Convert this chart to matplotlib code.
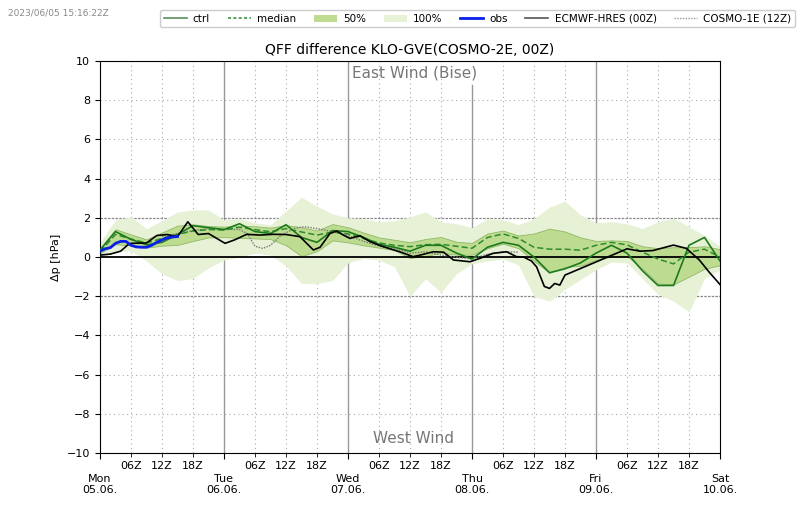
import matplotlib
matplotlib.use("Agg")
import matplotlib.pyplot as plt
from matplotlib.lines import Line2D
from matplotlib.patches import Patch
import numpy as np

# forecast hours from Mon 05.06. 00Z (3-hourly)
hours = list(range(0, 121, 3))

ctrl = [0.36, 1.3, 0.9, 0.62, 0.75, 1.15, 1.6, 1.5, 1.4, 1.7,
        1.3, 1.2, 1.65, 1.0, 0.75, 1.35, 1.3, 1.0, 0.65, 0.5,
        0.3, 0.6, 0.6, 0.2, -0.1, 0.5, 0.75, 0.6, 0.0, -0.8,
        -0.6, -0.3, 0.2, 0.6, 0.2, -0.7, -1.45, -1.45, 0.6, 1.0,
        -0.2]
median = [0.27, 1.15, 0.92, 0.72, 0.95, 1.15, 1.33, 1.4, 1.38, 1.52,
          1.4, 1.29, 1.45, 1.28, 1.12, 1.28, 1.18, 0.95, 0.72, 0.6,
          0.53, 0.63, 0.65, 0.55, 0.45, 1.0, 1.18, 0.95, 0.5, 0.4,
          0.4, 0.35, 0.6, 0.75, 0.62, 0.25, -0.1, -0.35, 0.25, 0.4,
          0.0]
p50_hi = [0.44, 1.42, 1.15, 0.9, 1.25, 1.6, 1.67, 1.58, 1.55, 1.6,
          1.57, 1.5, 1.63, 1.52, 1.35, 1.68, 1.52, 1.25, 1.0, 0.88,
          0.75, 0.92, 1.02, 0.78, 0.72, 1.2, 1.35, 1.1, 1.2, 1.45,
          1.3, 1.0, 0.82, 0.85, 0.82, 0.55, 0.45, 0.5, 0.5, 0.55,
          0.4]
p50_lo = [0.2, 0.65, 0.6, 0.48, 0.58, 0.62, 0.82, 1.0, 1.02, 0.98,
          0.95, 0.92, 0.6, 0.05, 0.3, 0.85, 0.75, 0.6, 0.48, 0.35,
          -0.05, 0.05, 0.22, 0.12, 0.12, 0.45, 0.68, 0.45, -0.2, -0.8,
          -0.5, -0.45, -0.15, 0.02, 0.05, -0.6, -1.35, -1.4, -1.0, -0.6,
          -0.42]
p100_hi = [0.75, 1.9, 2.05, 1.45, 1.85, 2.3, 2.4, 2.4, 1.9, 1.95,
           1.75, 1.65, 2.35, 3.05, 2.6, 2.2, 2.0, 1.95, 1.8, 1.85,
           2.05, 2.3, 1.8, 1.7, 1.5, 1.95, 1.9, 1.65, 1.95, 2.55,
           2.85, 2.15, 1.75, 1.8, 1.7, 1.45, 1.8, 1.97, 1.55, 1.1,
           0.55]
p100_lo = [-0.05, 0.3, 0.3, -0.2, -0.85, -1.2, -1.1, -0.55, -0.15, 0.0,
           0.2, 0.1, -0.45, -1.35, -1.35, -1.2, -0.3, -0.07, -0.15, -0.5,
           -2.0, -1.1, -1.8, -0.85, -0.35, -0.2, -0.1, -0.4, -2.0, -2.25,
           -1.65, -1.15, -0.65, -0.25, -0.3, -1.1, -1.9, -2.25, -2.8, -1.1,
           -0.66]

obs_hours = list(range(0, 16))
obs = [0.3, 0.42, 0.48, 0.7, 0.8, 0.8, 0.6, 0.52, 0.5, 0.5,
       0.6, 0.75, 0.88, 0.98, 1.02, 1.05]

ecmwf_hours = [0, 2, 4, 5.5, 6, 9, 11, 13, 15, 17, 19, 21, 22.6, 24.2, 26,
               28.4, 31, 33.5, 36, 38.7, 41.3, 42.6, 44.5, 45.8, 47.1, 48.4,
               50.3, 52.3, 54.8, 58, 60.6, 62, 64.5, 66.5, 68.4, 71.6, 73.5,
               76.1, 78.7, 80.6, 82, 83.5, 84.5, 86, 87, 88, 89, 90, 102,
               104.5, 107, 111, 113.5, 116, 118, 120]
ecmwf = [0.1, 0.15, 0.3, 0.65, 0.7, 0.72, 1.1, 1.15, 1.04, 1.8, 1.15, 1.2,
         0.95, 0.7, 0.87, 1.16, 1.12, 1.16, 1.15, 1.04, 0.36, 0.5, 1.2, 1.33,
         1.12, 0.95, 1.09, 0.78, 0.53, 0.27, 0.02, 0.1, 0.27, 0.25, -0.15,
         -0.24, -0.07, 0.19, 0.27, 0.02, 0.0, -0.2, -0.5, -1.5, -1.6, -1.35,
         -1.43, -0.92, 0.42, 0.3, 0.33, 0.61, 0.44, -0.15, -0.8, -1.4]

c1e_hours = [12, 15, 18, 21, 24, 27, 28.5, 30, 31.5, 33, 35, 37.5, 39.5, 42,
             45, 48, 51, 54, 57, 60, 63, 66, 69, 72, 75, 78, 81]
c1e = [1.05, 1.2, 1.35, 1.45, 1.42, 1.4, 1.2, 0.55, 0.44, 0.6, 1.1, 1.45,
       1.55, 1.45, 1.3, 1.1, 0.8, 0.55, 0.45, 0.2, 0.27, 0.1, 0.0, -0.1,
       0.15, 0.27, 0.25]

day_labels = ["Mon\n05.06.", "Tue\n06.06.", "Wed\n07.06.", "Thu\n08.06.",
              "Fri\n09.06.", "Sat\n10.06."]
hour_labels = ["06Z", "12Z", "18Z"]

fig = plt.figure(figsize=(8, 5.09), dpi=100)
ax = fig.add_axes([0.125, 0.110, 0.775, 0.770])

c100 = "#e6f1d5"
c50 = "#bedc90"
ax.fill_between(hours, p100_lo, p100_hi, color=c100, lw=0, zorder=1)
ax.fill_between(hours, p50_lo, p50_hi, facecolor=c50, edgecolor="#8fb868",
                lw=0.6, zorder=2)

# grid
for d in range(1, 5):
    top = 0.94 if d == 3 else 1.0
    ax.axvline(d * 24, ymax=top, color="#999999", lw=1.0, zorder=0.5)
for d in range(5):
    for hh in (6, 12, 18):
        ax.axvline(d * 24 + hh, color="#aaaaaa", lw=0.8, ls=(0, (1, 3)), zorder=0.5)
for yv in (-10, -8, -6, -4, 4, 6, 8, 10):
    ax.axhline(yv, color="#aaaaaa", lw=0.8, ls=(0, (1, 3)), zorder=0.5)
for yv in (-2, 2):
    ax.axhline(yv, color="#888888", lw=0.9, ls=(0, (2, 1)), zorder=0.5)
ax.axhline(0, color="black", lw=1.3, zorder=3)

ax.plot(c1e_hours, c1e, color="#777777", lw=1.0, ls=(0, (1, 1)), zorder=4)
ax.plot(hours, median, color="#2e8b2e", lw=1.1, ls=(0, (4, 2)), zorder=5)
ax.plot(hours, ctrl, color="#1c7a1c", lw=1.2, zorder=5)
ax.plot(ecmwf_hours, ecmwf, color="black", lw=1.2, zorder=6)
ax.plot(obs_hours, obs, color="#0a1fe8", lw=2.0, zorder=7)

ax.set_xlim(0, 120)
ax.set_ylim(-10, 10)
ax.set_yticks(range(-10, 11, 2))
ax.set_xticks(range(0, 121, 24))
ax.set_xticklabels(day_labels)
minor = [d * 24 + hh for d in range(5) for hh in (6, 12, 18)]
ax.set_xticks(minor, minor=True)
ax.set_xticklabels(hour_labels * 5, minor=True)
ax.tick_params(axis="x", which="major", pad=11, labelsize=8, length=4)
ax.tick_params(axis="x", which="minor", pad=3, labelsize=8, length=3)
ax.tick_params(axis="y", labelsize=8)
ax.set_ylabel("Δp [hPa]", fontsize=8)
ax.set_title("QFF difference KLO-GVE(COSMO-2E, 00Z)", fontsize=10, pad=5)

ax.text(0.508, 0.969, "East Wind (Bise)", transform=ax.transAxes, ha="center",
        va="center", fontsize=11, color="#777777", zorder=8)
ax.text(0.505, 0.038, "West Wind", transform=ax.transAxes, ha="center",
        va="center", fontsize=11, color="#777777", zorder=8)

fig.text(0.01, 0.974, "2023/06/05 15:16:22Z", fontsize=6.5, color="#888888",
         va="center")

handles = [
    Line2D([], [], color="#5a8f5a", lw=1.2),
    Line2D([], [], color="#2e8b2e", lw=1.1, ls=(0, (2, 1.5))),
    Patch(facecolor=c50, edgecolor="none"),
    Patch(facecolor=c100, edgecolor="none"),
    Line2D([], [], color="#0a1fe8", lw=2.0),
    Line2D([], [], color="#555555", lw=1.2),
    Line2D([], [], color="#999999", lw=1.0, ls=(0, (1, 1))),
]
labels = ["ctrl", "median", "50%", "100%", "obs", "ECMWF-HRES (00Z)",
          "COSMO-1E (12Z)"]
fig.legend(handles, labels, loc="lower left",
           bbox_to_anchor=(0.2, 0.946, 0.794, 0.044), mode="expand",
           ncol=7, fontsize=7.5, handlelength=2.2, handletextpad=0.6,
           borderpad=0.35, borderaxespad=0, framealpha=1)

fig.savefig("out.png", dpi=100)
